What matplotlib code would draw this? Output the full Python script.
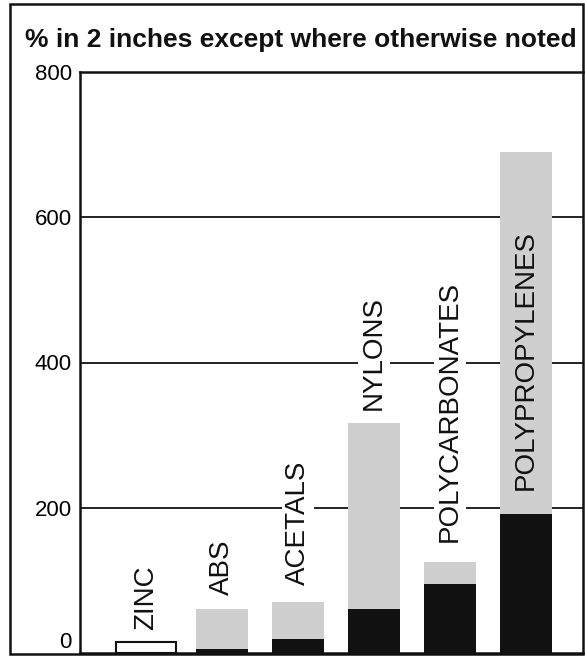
import matplotlib
matplotlib.use("Agg")
import matplotlib.pyplot as plt
from matplotlib.patches import Rectangle

# elongation data (% in 2 inches)
materials = ['ZINC', 'ABS', 'ACETALS', 'NYLONS', 'POLYCARBONATES', 'POLYPROPYLENES']
low_values = [15, 5, 19, 61, 95, 192]      # black part (zinc drawn as open bar)
high_values = [15, 61, 70, 317, 125, 690]  # top of the gray part
label_bottoms = [32, 80, 94, 335, 153, 225]
y_ticks = [0, 200, 400, 600, 800]

W, H = 585, 657
fig = plt.figure(figsize=(W / 100, H / 100), dpi=100)
ax = fig.add_axes([80 / W, 4 / H, (583 - 80) / W, (653 - 72) / H])

gray = '#cfcfcf'
dark = '#111111'
bw = 0.68

for i, name in enumerate(materials):
    if name == 'ZINC':
        ax.bar(i, high_values[i], width=bw + 0.1, color='white', edgecolor=dark,
               linewidth=1.5, zorder=3)
    else:
        ax.bar(i, high_values[i], width=bw, color=gray, zorder=3)
        ax.bar(i, low_values[i], width=bw, color=dark, zorder=4)

for i, name in enumerate(materials):
    inside = name == 'POLYPROPYLENES'
    ax.text(i, label_bottoms[i], name, rotation=90, ha='center', va='bottom',
            fontsize=20, family=['Liberation Sans', 'DejaVu Sans'], color='#111111', zorder=5,
            bbox=None if inside else dict(facecolor='white', edgecolor='none', pad=2))

ax.set_xlim(-0.87, 5.75)
ax.set_ylim(0, 800)
ax.set_xticks([])
ax.set_yticks(y_ticks)
ax.set_yticklabels([str(v) for v in y_ticks], fontsize=16,
                   family=['Liberation Sans Narrow', 'Liberation Sans'])
ax.tick_params(axis='y', length=0, pad=6)
ax.get_yticklabels()[0].set_va('bottom')
for v in y_ticks[1:-1]:
    ax.axhline(v, color=dark, linewidth=1.3, zorder=1)

for side in ['left', 'top', 'bottom']:
    ax.spines[side].set_linewidth(1.8)
    ax.spines[side].set_color(dark)
ax.spines['right'].set_visible(False)

# outer frame around the whole chart
fig.patches.append(Rectangle((10 / W, 3 / H), (583 - 10) / W, 650 / H,
                             transform=fig.transFigure, fill=False,
                             edgecolor=dark, linewidth=1.8))

fig.text(301 / W, 1 - 40 / H, '% in 2 inches except where otherwise noted',
         ha='center', va='center', fontsize=19, fontweight='bold',
         family=['Liberation Sans', 'DejaVu Sans'], color='#111111')

fig.savefig('out.png', dpi=100)
